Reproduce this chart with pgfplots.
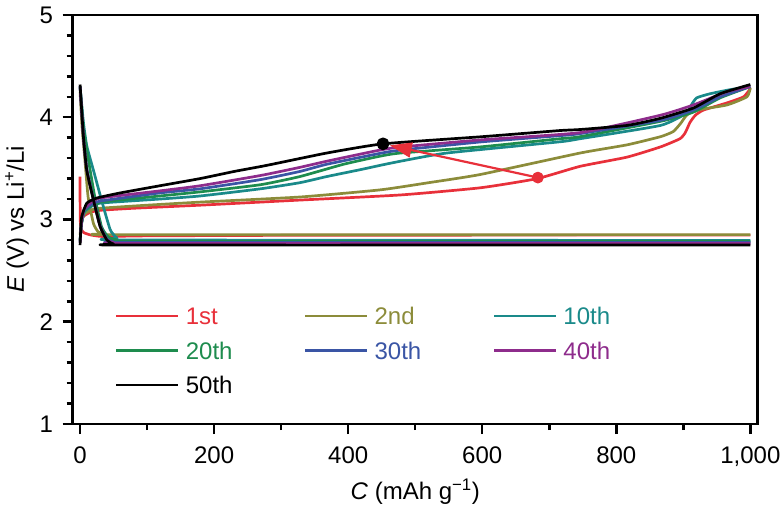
\documentclass[border=0pt]{standalone}
\usepackage{pgfplots}
\pgfplotsset{compat=1.18}
\usetikzlibrary{arrows.meta}
\usepackage{fontspec}
\setmainfont{Liberation Sans}
\definecolor{c1}{HTML}{E8303A}
\definecolor{c2}{HTML}{8C8C3A}
\definecolor{c10}{HTML}{1A8A8A}
\definecolor{c20}{HTML}{1E8C4E}
\definecolor{c30}{HTML}{3A55A5}
\definecolor{c40}{HTML}{8E2C8C}
\definecolor{c50}{HTML}{000000}
\newcommand{\bigf}{\fontsize{24bp}{28bp}\selectfont}
\begin{document}
\begin{tikzpicture}
\useasboundingbox (0,0) rectangle (781bp,505bp);
\begin{axis}[
  at={(72.7bp,81bp)}, anchor=south west,
  width=685bp, height=409bp, scale only axis,
  xmin=-11, xmax=1011, ymin=1, ymax=5,
  xtick={0,200,...,1000}, minor x tick num=1,
  ytick={1,2,3,4,5}, minor y tick num=4,
  tick pos=left, tick align=outside,
  major tick length=10bp, minor tick length=6bp,
  every tick/.style={black, line width=2.5bp},
  axis line style={line width=2.5bp},
  /pgf/number format/assume math mode=true,
  /pgf/number format/1000 sep={,},
  ticklabel style={font=\bigf},
  yticklabel style={inner sep=0pt, anchor=east, xshift=-9.5bp},
  xticklabel style={inner sep=0pt, anchor=north, yshift=-13bp},
  xlabel={\textit{C} (mAh g\textsuperscript{−1})},
  ylabel={\textit{E} (V) vs Li\textsuperscript{+}/Li},
  every axis x label/.style={at={(rel axis cs:0.5,0)}, yshift=-68bp, anchor=center, font=\bigf},
  every axis y label/.style={at={(rel axis cs:0,0.5)}, xshift=-55.7bp, anchor=center, rotate=90, font=\bigf},
  legend columns=3,
  legend style={at={(rel axis cs:0.0618,0.291)}, anchor=north west, draw=none, fill=none,
    inner sep=0pt, outer sep=0pt, font=\bigf, row sep=12.5bp,
    nodes={inner sep=0pt, text height=20bp, text depth=2bp, text width=48bp, align=left},
    /tikz/every odd column/.append style={column sep=6bp},
    /tikz/every even column/.append style={column sep=70bp}},
  legend cell align=left,
  legend image code/.code={\draw[#1, line width=2.8bp] (0bp,0bp) -- (62bp,0bp);},
  every axis plot/.append style={line width=2.7bp, line join=round},
]
% 1st
\addplot[c1, smooth, tension=0.3] coordinates {(0,3.42) (0,3.2) (0.5,2.95) (2,2.9) (6,2.87) (15,2.85) (30,2.835) (50,2.835) (100,2.84) (300,2.845) (600,2.847) (1000,2.847)};
\addlegendentry{\textcolor{c1}{1st}}
\addplot[c1, smooth, tension=0.3, forget plot] coordinates {(1,2.86) (2,2.97) (5,3.03) (15,3.07) (30,3.09) (80,3.11) (179,3.14) (328,3.19) (478,3.24) (597,3.31) (682,3.40) (746,3.52) (816,3.61) (866,3.71) (895,3.79) (903,3.85) (910,3.95) (918,4.02) (930,4.07) (965,4.14) (990,4.20) (1000,4.28)};
% 2nd
\addplot[c2, smooth, tension=0.3] coordinates {(0,4.25) (3,3.9) (7,3.6) (12,3.22) (20,2.96) (27,2.88) (35,2.86) (60,2.852) (1000,2.852)};
\addlegendentry{\textcolor{c2}{2nd}}
\addplot[c2, smooth, tension=0.3, forget plot] coordinates {(0,2.85) (2,2.98) (6,3.05) (15,3.09) (30,3.11) (100,3.14) (179,3.17) (328,3.22) (448,3.29) (520,3.36) (597,3.44) (746,3.65) (816,3.73) (866,3.81) (885,3.86) (896,3.94) (905,4.02) (920,4.07) (965,4.12) (995,4.20) (1000,4.29)};
% 10th
\addplot[c10, smooth, tension=0.3] coordinates {(0,4.3) (5,3.95) (10,3.72) (20,3.48) (32,3.19) (45,2.90) (55,2.82) (70,2.80) (1000,2.795)};
\addlegendentry{\textcolor{c10}{10th}}
\addplot[c10, smooth, tension=0.3, forget plot] coordinates {(0,2.80) (2,2.95) (6,3.07) (15,3.12) (30,3.16) (119,3.20) (179,3.23) (269,3.30) (328,3.36) (368,3.42) (420,3.49) (448,3.53) (478,3.57) (547,3.65) (716,3.76) (746,3.79) (866,3.92) (905,4.04) (912,4.12) (920,4.19) (940,4.23) (970,4.27) (1000,4.3)};
% 20th
\addplot[c20, smooth, tension=0.3] coordinates {(0,4.3) (5,3.9) (12,3.6) (22,3.22) (32,2.93) (42,2.83) (55,2.80) (80,2.787) (1000,2.785)};
\addlegendentry{\textcolor{c20}{20th}}
\addplot[c20, smooth, tension=0.3, forget plot] coordinates {(0,2.79) (2,2.95) (6,3.08) (15,3.13) (30,3.17) (119,3.23) (179,3.27) (269,3.34) (328,3.42) (393,3.54) (448,3.62) (478,3.65) (597,3.71) (716,3.79) (746,3.81) (866,3.96) (915,4.05) (955,4.19) (1000,4.3)};
% 30th
\addplot[c30, smooth, tension=0.3] coordinates {(0,4.3) (5,3.82) (10,3.5) (20,3.2) (30,2.94) (40,2.81) (50,2.78) (80,2.775) (1000,2.775)};
\addlegendentry{\textcolor{c30}{30th}}
\addplot[c30, smooth, tension=0.3, forget plot] coordinates {(0,2.78) (2,2.96) (6,3.09) (15,3.14) (30,3.18) (119,3.26) (179,3.30) (269,3.39) (328,3.47) (368,3.54) (450,3.65) (480,3.68) (600,3.76) (716,3.82) (746,3.84) (866,3.97) (915,4.07) (955,4.20) (1000,4.3)};
% 40th
\addplot[c40, smooth, tension=0.3] coordinates {(0,4.3) (5,3.8) (10,3.48) (20,3.19) (30,2.93) (40,2.80) (50,2.775) (80,2.765) (1000,2.765)};
\addlegendentry{\textcolor{c40}{40th}}
\addplot[c40, smooth, tension=0.3, forget plot] coordinates {(0,2.77) (2,2.97) (6,3.10) (15,3.16) (30,3.21) (119,3.28) (179,3.33) (269,3.43) (328,3.51) (368,3.57) (448,3.68) (480,3.71) (600,3.78) (746,3.85) (866,4.02) (915,4.12) (965,4.25) (1000,4.3)};
% 50th
\addplot[c50, smooth, tension=0.3] coordinates {(0,4.32) (5,3.81) (10,3.48) (20,3.19) (30,2.93) (40,2.80) (50,2.76) (70,2.75) (1000,2.75)};
\addlegendentry{\textcolor{c50}{50th}}
\addplot[c50, smooth, tension=0.3, forget plot] coordinates {(0,2.75) (1,2.9) (2.5,3.03) (10,3.16) (25,3.21) (60,3.26) (119,3.33) (179,3.40) (230,3.47) (279,3.53) (368,3.65) (452,3.74) (600,3.81) (716,3.87) (746,3.88) (816,3.92) (866,3.99) (915,4.09) (955,4.23) (1000,4.32)};
% annotation arrow and points
\addplot[c1, line width=2.2bp, -{Triangle[length=22bp,width=15bp]}, forget plot] coordinates {(683,3.41) (462,3.725)};
\addplot[c1, only marks, mark=*, mark size=4.5bp, forget plot] coordinates {(683,3.41)};
\addplot[black, only marks, mark=*, mark size=5bp, forget plot] coordinates {(452,3.74)};
\end{axis}
\end{tikzpicture}
\end{document}
